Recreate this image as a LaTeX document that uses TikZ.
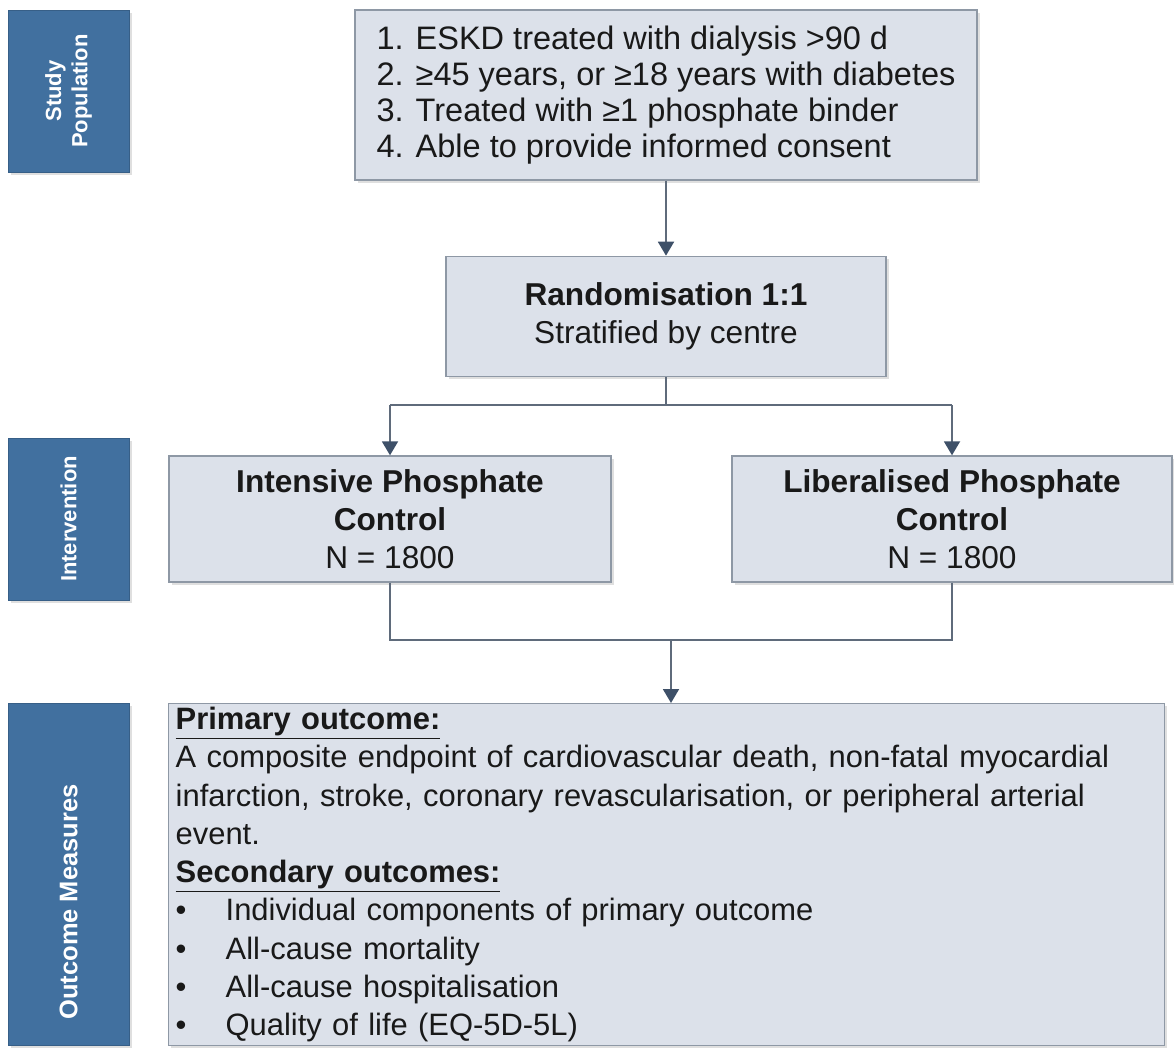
\documentclass[tikz,border=0pt]{standalone}
\usepackage{fontspec}
\setmainfont{Liberation Sans}
\usetikzlibrary{arrows.meta,positioning,shadows}
\definecolor{barblue}{HTML}{41709F}
\definecolor{boxfill}{HTML}{DCE1EA}
\definecolor{boxedge}{HTML}{8E98A5}
\definecolor{linegrey}{HTML}{5F6B7B}
\definecolor{tipslate}{HTML}{3E5068}
\tikzset{
  stage/.style={rectangle, draw=barblue!85!black, fill=barblue, text=white, rotate=90, align=center, minimum height=2.42cm, font=\fontsize{12.5}{15}\selectfont\bfseries, drop shadow={opacity=0.25, shadow xshift=1.5pt, shadow yshift=-1.5pt}},
  panel/.style={rectangle, draw=boxedge, line width=0.8pt, fill=boxfill, align=center, text=black!90, font=\fontsize{18}{21.5}\selectfont, drop shadow={opacity=0.25, shadow xshift=1.5pt, shadow yshift=-1.5pt}},
  flow/.style={draw=linegrey, line width=1.1pt, -{Triangle[width=0.32cm, length=0.28cm, color=tipslate]}},
  link/.style={draw=linegrey, line width=1.1pt},
}

\begin{document}
\begin{tikzpicture}[x=0.02cm, y=-0.02cm]
  \useasboundingbox (0,0) rectangle (1174,1048);
  % left stage bars
  \node[stage, minimum width=3.24cm] (popbar) at (68.5,91) {Study\\Population};
  \node[stage, minimum width=3.24cm] (intbar) at (68.5,519) {Intervention};
  \node[stage, minimum width=6.84cm, font=\fontsize{14.5}{17}\selectfont\bfseries] (outbar) at (68.5,874) {Outcome Measures\hspace*{1.12cm}};
  % flow boxes
  \node[panel, align=left, minimum width=12.44cm, minimum height=3.4cm, font=\fontsize{18.5}{20.6}\selectfont] (crit) at (666,95)
    {1. ESKD treated with dialysis >90 d\\2. ≥45 years, or ≥18 years with diabetes\\3. Treated with ≥1 phosphate binder\\4. Able to provide informed consent};
  \node[panel, minimum width=8.8cm, minimum height=2.4cm, below=1.5cm of crit] (rand)
    {\textbf{Randomisation 1:1}\\Stratified by centre};
  \node[panel, minimum width=8.84cm, minimum height=2.52cm] (intens) at (390,519)
    {\textbf{Intensive Phosphate}\\\textbf{Control}\\N = 1800};
  \node[panel, minimum width=8.8cm, minimum height=2.52cm] (liber) at (952,519)
    {\textbf{Liberalised Phosphate}\\\textbf{Control}\\N = 1800};
  \node[panel, anchor=north west, align=left, inner xsep=0.14cm, inner ysep=0.05cm, text width=19.64cm, minimum height=6.84cm, font=\fontsize{17.6}{21.8}\selectfont] (outc) at (168,703)
    {\underline{\textbf{Primary outcome:}}\\
     A composite endpoint of cardiovascular death, non-fatal myocardial\\
     infarction, stroke, coronary revascularisation, or peripheral arterial\\
     event.\\
     \underline{\textbf{Secondary outcomes:}}\\
     \makebox[1cm][l]{\textbullet}Individual components of primary outcome\\
     \makebox[1cm][l]{\textbullet}All-cause mortality\\
     \makebox[1cm][l]{\textbullet}All-cause hospitalisation\\
     \makebox[1cm][l]{\textbullet}Quality of life (EQ-5D-5L)};
  % connectors
  \coordinate (split) at (667,405);
  \coordinate (join) at (671,640);
  \draw[flow] (crit) -- (rand);
  \draw[link] (rand.south) -- (rand.south |- split);
  \draw[flow] (intens.north |- split) -- (intens.north);
  \draw[flow] (liber.north |- split) -- (liber.north);
  \draw[link] (intens.north |- split) -- (liber.north |- split);
  \draw[link] (intens.south) |- (join);
  \draw[link] (liber.south) |- (join);
  \draw[flow] (join) -- (join |- outc.north);
\end{tikzpicture}
\end{document}
